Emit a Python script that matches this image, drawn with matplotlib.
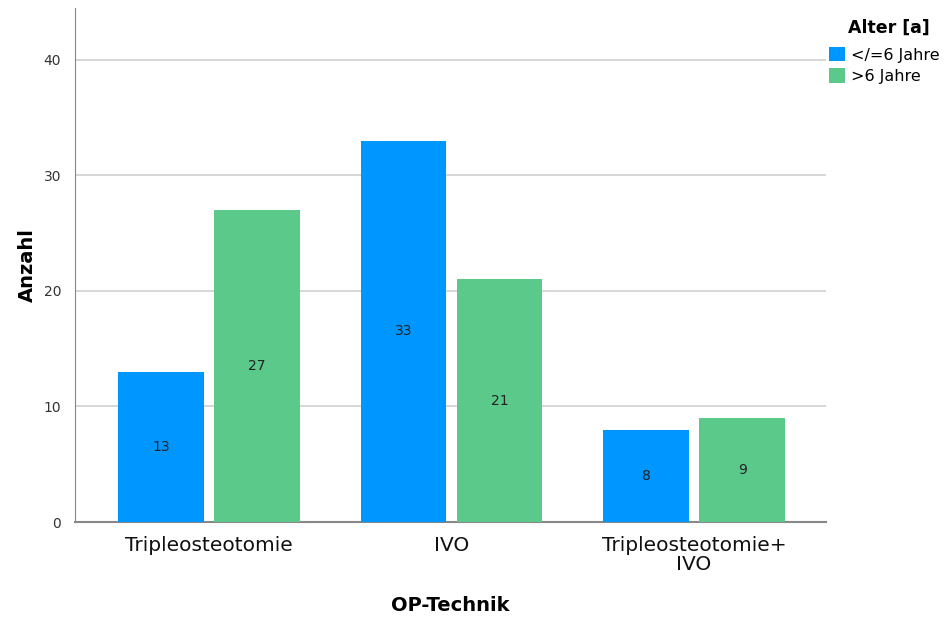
import numpy as np
import matplotlib.pyplot as plt

categories = ["Tripleosteotomie", "IVO", "Tripleosteotomie+\nIVO"]
series_names = ["</=6 Jahre", ">6 Jahre"]
young = [13, 33, 8]
old = [27, 21, 9]
colors = ["#0096FF", "#5BC98A"]

fig = plt.figure(figsize=(9.48, 6.17), dpi=100)
ax = fig.add_axes([75 / 948, 1 - 522 / 617, 751 / 948, 514 / 617])

x = np.arange(len(categories))
w = 0.353
off = 0.198
b1 = ax.bar(x - off, young, w, color=colors[0], label=series_names[0], zorder=3)
b2 = ax.bar(x + off, old, w, color=colors[1], label=series_names[1], zorder=3)

for bars in (b1, b2):
    for r in bars:
        h = r.get_height()
        ax.text(r.get_x() + r.get_width() / 2, h / 2, str(int(h)),
                ha="center", va="center", fontsize=10, color="#222222", zorder=4)

ax.set_xlim(-0.553, 2.544)
ax.set_ylim(0, 44.5)
ax.set_yticks([0, 10, 20, 30, 40])
ax.set_xticks(x)
ax.set_xticklabels(categories, fontsize=14.5, linespacing=1.0)
ax.tick_params(axis="y", labelsize=10, length=0, pad=10, colors="#333333")
ax.tick_params(axis="x", length=0, pad=10, colors="#111111")
ax.yaxis.grid(True, color="#d0d0d0", linewidth=1.2, zorder=0)

for s in ["top", "right"]:
    ax.spines[s].set_visible(False)
ax.spines["left"].set_color("#888888")
ax.spines["bottom"].set_color("#888888")
ax.spines["bottom"].set_linewidth(1.5)

ax.set_ylabel("Anzahl", fontsize=14, fontweight="bold")
ax.yaxis.set_label_coords(-0.051, 0.5)
ax.set_xlabel("OP-Technik", fontsize=14, fontweight="bold")
ax.xaxis.set_label_coords(0.5, -0.143)

# legend title drawn separately so the entries sit lower, like the original
fig.text(889 / 948, 1 - 28 / 617, "Alter [a]", ha="center", va="center",
         fontsize=12.5, fontweight="bold")
leg = fig.legend(handles=[b1, b2], labels=series_names,
                 loc="upper left", bbox_to_anchor=(829 / 948, 1 - 47 / 617),
                 frameon=False, fontsize=11.5,
                 handlelength=1.0, handleheight=1.0, handletextpad=0.35,
                 borderaxespad=0, labelspacing=0.35, borderpad=0)

fig.savefig("out.png", dpi=100)
